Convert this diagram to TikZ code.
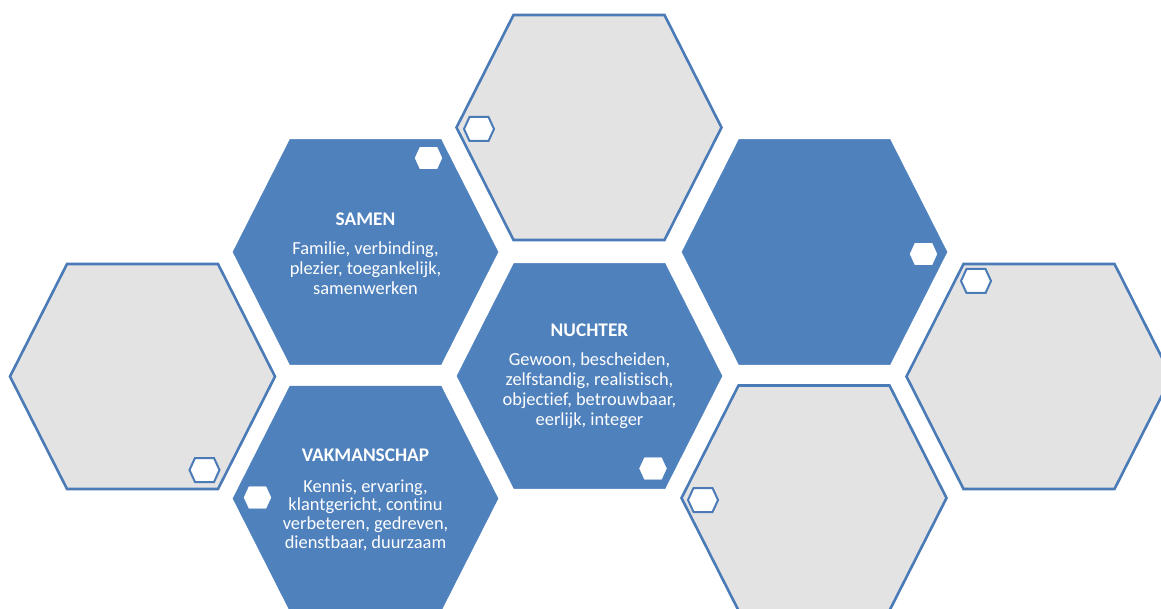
\documentclass[tikz,border=0pt]{standalone}
\usepackage{fontspec}
\setmainfont[Ligatures=NoCommon]{Carlito}
\definecolor{cellblue}{HTML}{4F81BD}
\definecolor{cellline}{HTML}{4A7BB7}
\definecolor{cellgrey}{HTML}{E3E3E3}

\begin{document}
\begin{tikzpicture}[x=1pt,y=-1pt]
\tikzset{hexa/.pic={\path[pic actions] (-132.5,0) -- (-75.5,-112.5) -- (75.5,-112.5) -- (132.5,0) -- (75.5,112.5) -- (-75.5,112.5) -- cycle;}}
\tikzset{minihex/.pic={\path[pic actions] (-15,0) -- (-9.5,-12) -- (9.5,-12) -- (15,0) -- (9.5,12) -- (-9.5,12) -- cycle;}}
\tikzset{greycell/.style={fill=cellgrey, draw=cellline, line width=2.6pt}}
\tikzset{bluecell/.style={fill=cellblue, draw=cellblue, line width=0.5pt}}
\tikzset{greybadge/.style={fill=white, draw=cellline, line width=2pt}}
\tikzset{bluebadge/.style={fill=white, draw=white, line width=0.3pt}}
\tikzset{celltext/.style={anchor=north, align=center, inner sep=0pt, text=white, font=\fontsize{18.4}{20}\selectfont}}
\newcommand{\celltitle}[1]{{\fontsize{19.3}{20}\selectfont\bfseries #1}}
\useasboundingbox (0,0) rectangle (1161,609);
% grey cells
\foreach \cx/\cy in {142.5/376.5, 589/127.5, 814/498, 1039/376.5}
  \pic[greycell] at (\cx,\cy) {hexa};
% blue cells
\foreach \cx/\cy in {365.5/252, 365.5/498.5, 589.5/376, 814.5/252}
  \pic[bluecell] at (\cx,\cy) {hexa};
% small hexagons
\foreach \cx/\cy in {204.5/470, 479/129, 976/281, 703/500}
  \pic[greybadge] at (\cx,\cy) {minihex};
\foreach \cx/\cy in {428.5/158, 653/468.5, 257.5/497.5, 923.5/254}
  \pic[bluebadge, scale=0.9] at (\cx,\cy) {minihex};
% texts
\node[celltext] (samen) at (365.5,212.8) {\celltitle{SAMEN}\\[9pt]
  Familie, verbinding,\\ plezier, toegankelijk,\\ samenwerken};
\node[celltext] (nuchter) at (589.5,323.7) {\celltitle{NUCHTER}\\[9pt]
  Gewoon, bescheiden,\\ zelfstandig, realistisch,\\ objectief, betrouwbaar,\\ eerlijk, integer};
\node[celltext, font=\fontsize{18.4}{18.8}\selectfont] (vakmanschap) at (365.5,448.4) {\celltitle{VAKMANSCHAP}\\[12pt]
  Kennis, ervaring,\\ klantgericht, continu\\ verbeteren, gedreven,\\ dienstbaar, duurzaam};
\end{tikzpicture}
\end{document}
